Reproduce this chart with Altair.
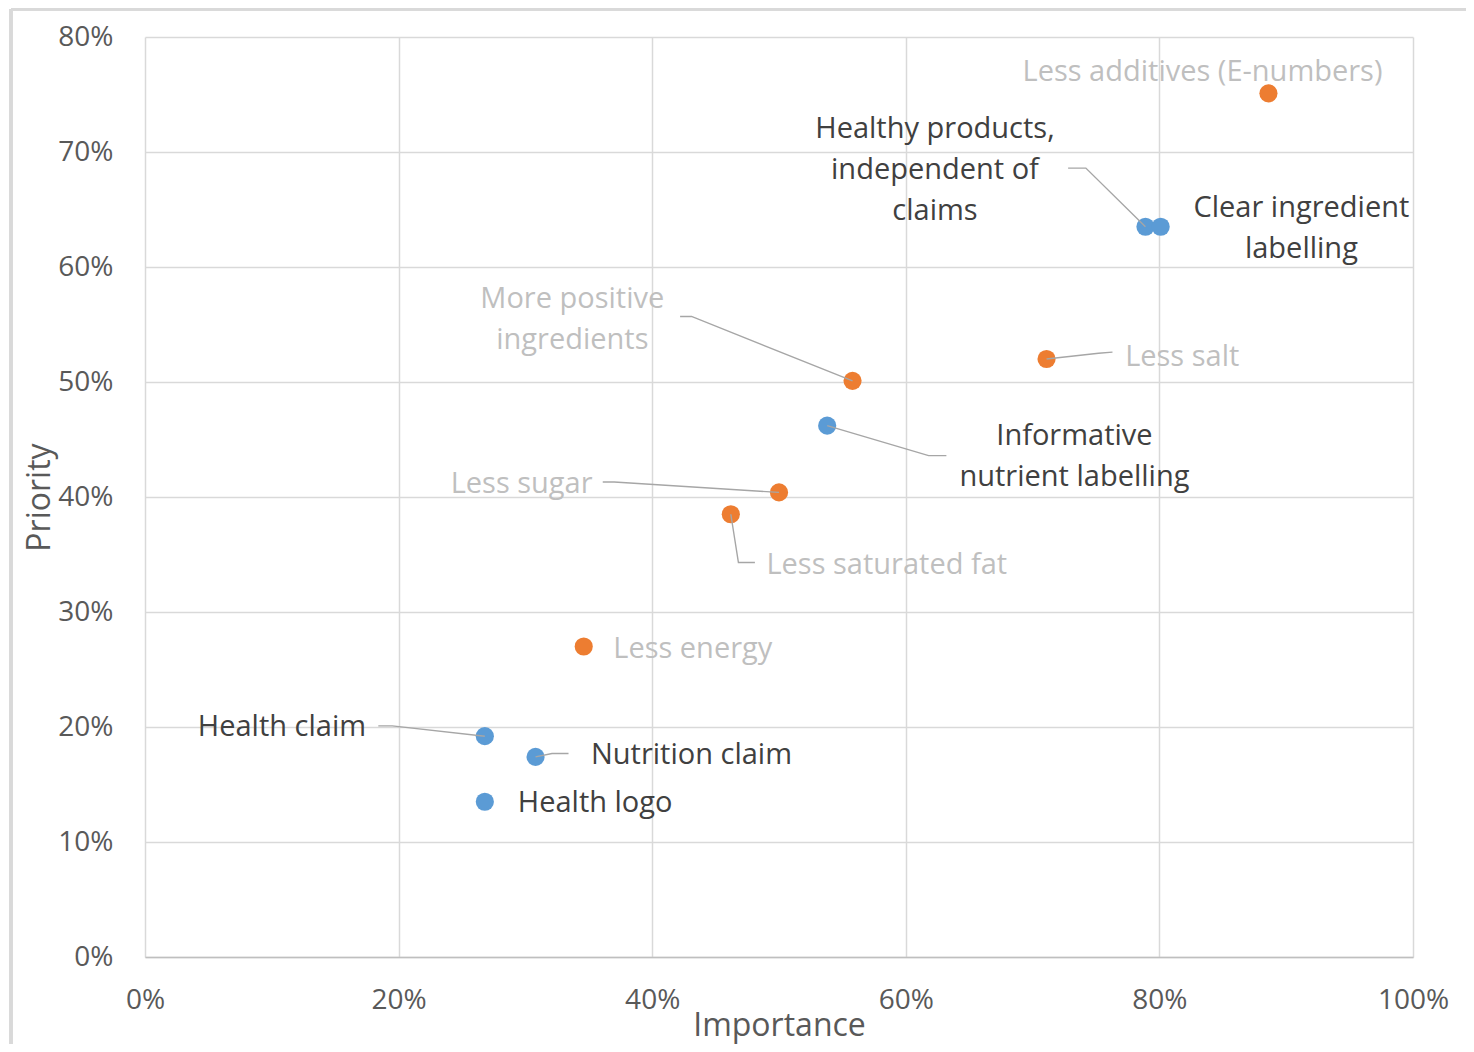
import altair as alt
import pandas as pd

# ---- data ----
names = ["Less additives (E-numbers)", "Healthy products, independent of claims",
         "Clear ingredient labelling", "More positive ingredients", "Less salt",
         "Informative nutrient labelling", "Less sugar", "Less saturated fat",
         "Less energy", "Health claim", "Nutrition claim", "Health logo"]
label_text = ["Less additives (E-numbers)", "Healthy products,\nindependent of\nclaims",
              "Clear ingredient\nlabelling", "More positive\ningredients", "Less salt",
              "Informative\nnutrient labelling", "Less sugar", "Less saturated fat",
              "Less energy", "Health claim", "Nutrition claim", "Health logo"]
group = ["Reformulation", "Labelling", "Labelling", "Reformulation", "Reformulation",
         "Labelling", "Reformulation", "Reformulation", "Reformulation",
         "Labelling", "Labelling", "Labelling"]
importance = [0.886, 0.789, 0.801, 0.558, 0.711, 0.538, 0.500, 0.462, 0.346, 0.268, 0.308, 0.268]
priority = [0.751, 0.635, 0.635, 0.501, 0.520, 0.462, 0.404, 0.385, 0.270, 0.192, 0.174, 0.135]

# label anchor positions (data units, first text line)
label_x = [0.834, 0.623, 0.912, 0.337, 0.818, 0.733, 0.297, 0.585, 0.432, 0.108, 0.431, 0.355]
label_y = [0.770, 0.720, 0.651, 0.572, 0.522, 0.453, 0.411, 0.341, 0.268, 0.200, 0.176, 0.134]

# leader lines: name, knee point, label-side end point (data units)
leader_names = ["Healthy products, independent of claims", "More positive ingredients",
                "Less salt", "Informative nutrient labelling", "Less sugar",
                "Less saturated fat", "Health claim", "Nutrition claim"]
knee_x = [0.742, 0.431, 0.752, 0.618, 0.370, 0.468, 0.195, 0.321]
knee_y = [0.686, 0.557, 0.525, 0.436, 0.413, 0.343, 0.201, 0.177]
end_x = [0.728, 0.422, 0.763, 0.632, 0.361, 0.481, 0.184, 0.334]
end_y = [0.686, 0.557, 0.526, 0.436, 0.413, 0.343, 0.201, 0.177]

# ---- tables ----
pts = pd.DataFrame({"name": names, "label": label_text, "group": group,
                    "importance": importance, "priority": priority,
                    "lx": label_x, "ly": label_y})
rows = []
for i, n in enumerate(leader_names):
    j = names.index(n)
    rows.append({"name": n, "o": 0, "x": importance[j], "y": priority[j]})
    rows.append({"name": n, "o": 1, "x": knee_x[i], "y": knee_y[i]})
    rows.append({"name": n, "o": 2, "x": end_x[i], "y": end_y[i]})
lead = pd.DataFrame(rows)

FONT = "Open Sans"
xscale = alt.Scale(domain=[0, 1], nice=False, zero=False)
yscale = alt.Scale(domain=[0, 0.8], nice=False, zero=False)
color_scale = alt.Scale(domain=["Labelling", "Reformulation"], range=["#5B9BD5", "#ED7D31"])
text_scale = alt.Scale(domain=["Labelling", "Reformulation"], range=["#404040", "#BFBFBF"])

xaxis = alt.Axis(values=[0, 0.2, 0.4, 0.6, 0.8, 1.0], format=".0%", title="Importance",
                 labelFontSize=28, labelColor="#595959", labelFont=FONT, labelPadding=29,
                 labelFlush=False,
                 titleFontSize=32, titleColor="#595959", titleFont=FONT, titleFontWeight="normal",
                 titlePadding=-4, ticks=False, grid=True, gridColor="#D9D9D9", gridWidth=1.5,
                 domainColor="#BFBFBF", domainWidth=1.5)
yaxis = alt.Axis(values=[0, 0.1, 0.2, 0.3, 0.4, 0.5, 0.6, 0.7, 0.8], format=".0%", title="Priority",
                 labelFontSize=28, labelColor="#595959", labelFont=FONT, labelPadding=32,
                 labelFlush=False,
                 titleFontSize=32, titleColor="#595959", titleFont=FONT, titleFontWeight="normal",
                 titlePadding=1, ticks=False, grid=True, gridColor="#D9D9D9", gridWidth=1.5,
                 domain=False)

points = alt.Chart(pts).mark_circle(size=330, opacity=1).encode(
    x=alt.X("importance:Q", scale=xscale, axis=xaxis),
    y=alt.Y("priority:Q", scale=yscale, axis=yaxis),
    color=alt.Color("group:N", scale=color_scale, legend=None),
)

lines = alt.Chart(lead).mark_line(color="#A6A6A6", strokeWidth=1.4).encode(
    x=alt.X("x:Q", scale=xscale),
    y=alt.Y("y:Q", scale=yscale),
    detail="name:N",
    order="o:Q",
)

labels = alt.Chart(pts).mark_text(font=FONT, fontSize=29, lineBreak="\n", lineHeight=41,
                                  align="center", baseline="middle").encode(
    x=alt.X("lx:Q", scale=xscale),
    y=alt.Y("ly:Q", scale=yscale),
    text="label:N",
    color=alt.Color("group:N", scale=text_scale, legend=None),
)

frame_left = alt.Chart(pts).mark_rule(color="#D9D9D9", strokeWidth=3).encode(
    x=alt.value(-134), y=alt.value(-28), y2=alt.value(1020))
frame_top = alt.Chart(pts).mark_rule(color="#D9D9D9", strokeWidth=3).encode(
    x=alt.value(-134), x2=alt.value(1330), y=alt.value(-28))

chart = alt.layer(frame_left, frame_top, points, lines, labels).resolve_scale(
    color="independent"
).properties(
    width=1268, height=920,
    autosize=alt.AutoSizeParams(type="none"),
    padding={"left": 137, "top": 29, "right": 53, "bottom": 87},
    background="white",
).configure_view(stroke=None)

chart.save("out.html", embed_options={"renderer": "svg", "actions": False})
